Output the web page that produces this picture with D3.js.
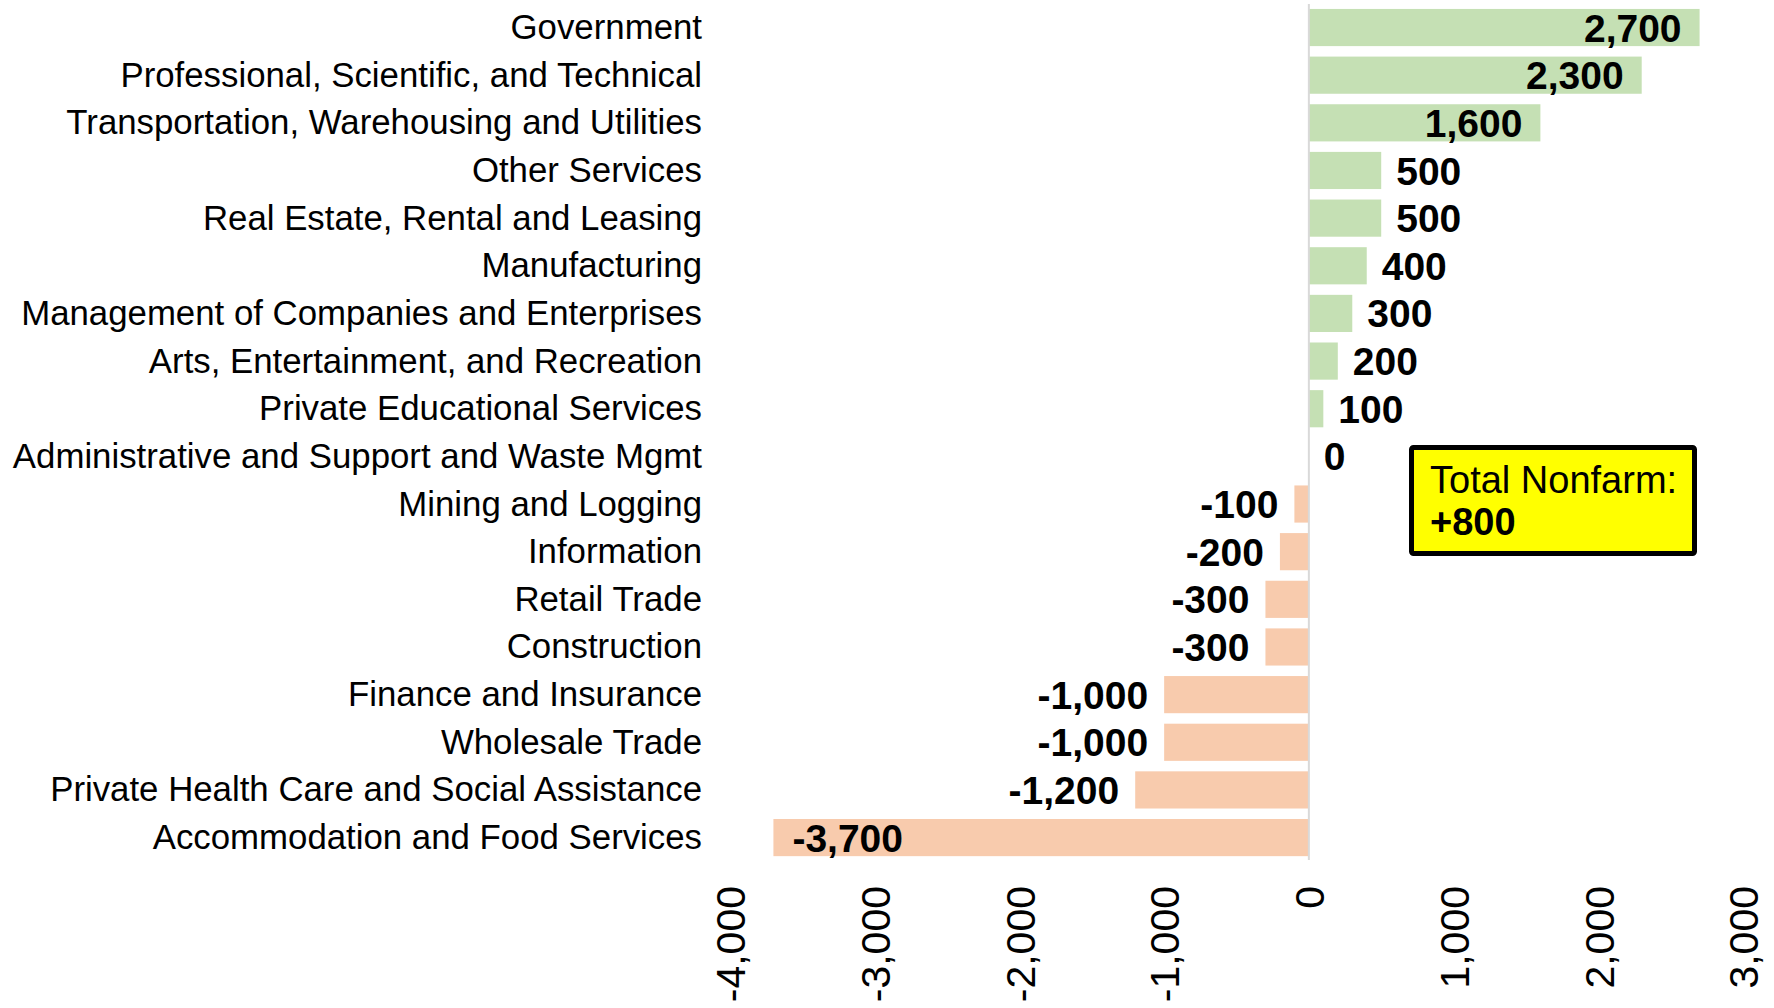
<!DOCTYPE html>
<html>

<head>
  <meta charset='utf-8'>
  <style>
    body { margin: 0; background: #fff; }
    svg { font-family: "Liberation Sans", Arial, sans-serif; }
  </style>
  <script src='https://cdn.jsdelivr.net/npm/d3@7/dist/d3.min.js'></script>
</head>

<body>

  <script>
    // industries, top to bottom, with the change in jobs
    const industries = [
      "Government",
      "Professional, Scientific, and Technical",
      "Transportation, Warehousing and Utilities",
      "Other Services",
      "Real Estate, Rental and Leasing",
      "Manufacturing",
      "Management of Companies and Enterprises",
      "Arts, Entertainment, and Recreation",
      "Private Educational Services",
      "Administrative and Support and Waste Mgmt",
      "Mining and Logging",
      "Information",
      "Retail Trade",
      "Construction",
      "Finance and Insurance",
      "Wholesale Trade",
      "Private Health Care and Social Assistance",
      "Accommodation and Food Services"
    ]
    const changes = [2700, 2300, 1600, 500, 500, 400, 300, 200, 100, 0,
      -100, -200, -300, -300, -1000, -1000, -1200, -3700]
    const xTicks = [-4000, -3000, -2000, -1000, 0, 1000, 2000, 3000]
    const totalLines = ["Total Nonfarm:", "+800"]

    const width = 1774, height = 1008
    // plain hyphen as minus sign, like the original
    const fmt = d3.formatLocale({ decimal: ".", thousands: ",", grouping: [3], currency: ["$", ""], minus: "-" }).format(",")

    const svg = d3.select("body").append("svg")
      .attr("width", width)
      .attr("height", height)

    const x = d3.scaleLinear([-4000, 3000], [730, 1743])
    const y = d3.scaleBand(d3.range(industries.length), [3.7, 861.4])
      .paddingInner(0.22)
      .paddingOuter(0.11)

    // bars
    svg.append("g")
      .selectAll("rect")
      .data(changes)
      .join("rect")
      .attr("x", d => x(Math.min(0, d)))
      .attr("width", d => Math.abs(x(d) - x(0)))
      .attr("y", (d, i) => y(i))
      .attr("height", y.bandwidth())
      .attr("fill", d => d >= 0 ? "#c5e0b4" : "#f8cbad")

    // zero line
    svg.append("line")
      .attr("x1", x(0)).attr("x2", x(0))
      .attr("y1", 4).attr("y2", 860)
      .attr("stroke", "#d9d9d9")
      .attr("stroke-width", 2)

    // category labels
    svg.append("g")
      .selectAll("text")
      .data(industries)
      .join("text")
      .attr("x", 702)
      .attr("y", (d, i) => y(i) + y.bandwidth() / 2)
      .attr("dy", "0.33em")
      .attr("text-anchor", "end")
      .attr("font-size", 34.8)
      .attr("fill", "#000")
      .text(d => d)

    // value labels: inside the bar end if they fit, else just outside
    const vals = svg.append("g")
      .selectAll("text")
      .data(changes)
      .join("text")
      .attr("y", (d, i) => y(i) + y.bandwidth() / 2)
      .attr("dy", "0.36em")
      .attr("font-size", 39)
      .attr("font-weight", "bold")
      .attr("fill", "#000")
      .text(d => fmt(d))

    vals.each(function (d) {
      const t = d3.select(this)
      const w = this.getComputedTextLength()
      const len = Math.abs(x(d) - x(0))
      const inside = len > w + 80
      if (d >= 0) {
        if (inside) t.attr("x", x(d) - 18).attr("text-anchor", "end")
        else t.attr("x", x(d) + 15).attr("text-anchor", "start")
      } else {
        if (inside) t.attr("x", x(d) + 19).attr("text-anchor", "start")
        else t.attr("x", x(d) - 16).attr("text-anchor", "end")
      }
    })

    // x axis with rotated tick labels
    svg.append("g")
      .attr("transform", "translate(0,886)")
      .call(d3.axisBottom(x).tickValues(xTicks).tickSize(0).tickFormat(fmt))
      .call(g => g.select(".domain").remove())
      .call(g => g.selectAll(".tick text")
        .attr("transform", "rotate(-90)")
        .attr("text-anchor", "end")
        .attr("x", 0)
        .attr("y", 0)
        .attr("dy", "0.36em")
        .attr("font-size", 41)
        .attr("font-family", "Liberation Sans, Arial, sans-serif")
        .attr("fill", "#000"))

    // total box
    const box = svg.append("g")
    box.append("rect")
      .attr("x", 1411.5).attr("y", 447.5)
      .attr("width", 283).attr("height", 106)
      .attr("rx", 2)
      .attr("fill", "#ffff00")
      .attr("stroke", "#000")
      .attr("stroke-width", 5)
    box.selectAll("text")
      .data(totalLines)
      .join("text")
      .attr("x", 1430)
      .attr("y", (d, i) => 493 + i * 42)
      .attr("font-size", 38)
      .attr("font-weight", (d, i) => i ? "bold" : "normal")
      .attr("fill", "#000")
      .text(d => d)
  </script>
</body>

</html>
